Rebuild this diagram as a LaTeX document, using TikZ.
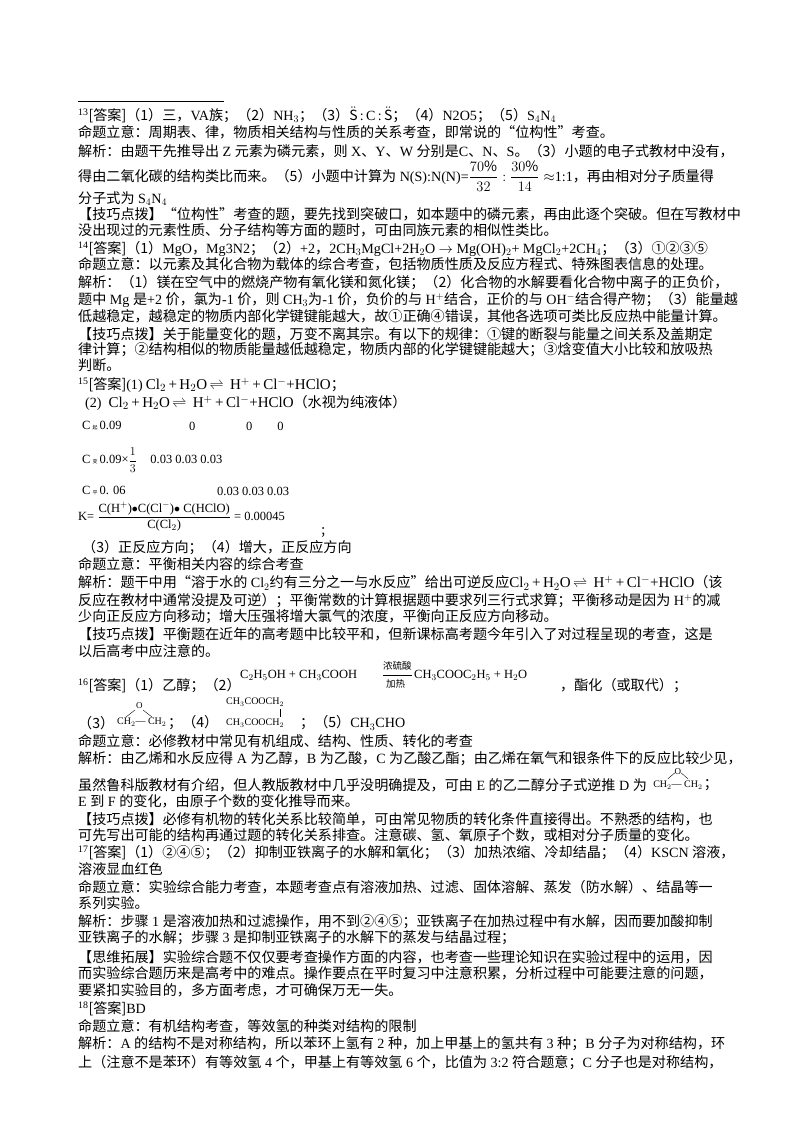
\documentclass[tikz,border=0pt]{standalone}
\usepackage{amsmath}
\usepackage{fontspec}
\setmainfont{Noto Sans CJK SC}
\newfontfamily\lf{Liberation Serif}
\newcommand\E[1]{{\lf #1}}
\newcommand\sps[1]{\textsuperscript{\lf #1}}
\newcommand\Cltwo{\E{Cl$_2$\,+\,H$_2$O\,$\rightleftharpoons$\, H$^+$\,+\,Cl$^-$+HClO}}
\tikzset{t/.style={anchor=west,inner sep=0,font=\fontsize{14.1}{16}\selectfont},
 s/.style={anchor=west,inner sep=0,font=\fontsize{12.5}{14}\selectfont}}
\begin{document}
\begin{tikzpicture}[x=1pt,y=-1pt]
\useasboundingbox (0,0) rectangle (800,1132);
\fill[white] (0,0) rectangle (800,1132);
\draw[line width=0.8pt] (78,101) -- (224,101);
\node[t] (a1) at (78,115) {\sps{13}[答案]（1）三，\E{VA}族；（2）\E{NH$_3$}；（3）\E{\fontsize{14}{15}\selectfont $\ddot{\mathrm{S}}$\,:\,C\,:\,$\ddot{\mathrm{S}}$}；（4）\E{N2O5}；（5）\E{S$_4$N$_4$}};
\node[t] (a2) at (78,132) {命题立意：周期表、律，物质相关结构与性质的关系考查，即常说的“位构性”考查。};
\node[t] (a3) at (78,151) {解析：由题干先推导出\E{ Z }元素为磷元素，则\E{ X}、\E{Y}、\E{W }分别是\E{C}、\E{N}、\E{S}。（3）小题的电子式教材中没有，};
\node[t] (a4) at (78,176) {得由二氧化碳的结构类比而来。（5）小题中计算为\E{ N(S):N(N)=$\dfrac{70\%}{32}:\dfrac{30\%}{14}\approx$1:1}，再由相对分子质量得};
\node[t] (a5) at (78,199) {分子式为\E{ S$_4$N$_4$}};
\node[t] (a6) at (78,214) {【技巧点拨】“位构性”考查的题，要先找到突破口，如本题中的磷元素，再由此逐个突破。但在写教材中};
\node[t] (a7) at (78,230) {没出现过的元素性质、分子结构等方面的题时，可由同族元素的相似性类比。};
\node[t] (b1) at (78,249) {\sps{14}[答案]（1）\E{MgO}，\E{Mg3N2}；（2）\E{+2}，\E{2CH$_3$MgCl+2H$_2$O $\rightarrow$ Mg(OH)$_2$+ MgCl$_2$+2CH$_4$}；（3）①②③⑤};
\node[t] (b2) at (78,264) {命题立意：以元素及其化合物为载体的综合考查，包括物质性质及反应方程式、特殊图表信息的处理。};
\node[t] (b3) at (78,283) {解析：（1）镁在空气中的燃烧产物有氧化镁和氮化镁；（2）化合物的水解要看化合物中离子的正负价，};
\node[t] (b4) at (78,300) {题中\E{ Mg }是\E{+2 }价，氯为\E{-1 }价，则\E{ CH$_3$}为\E{-1 }价，负价的与\E{ H$^+$}结合，正价的与\E{ OH$^-$}结合得产物；（3）能量越};
\node[t] (b5) at (78,316) {低越稳定，越稳定的物质内部化学键键能越大，故①正确④错误，其他各选项可类比反应热中能量计算。};
\node[t] (b6) at (78,334) {【技巧点拨】关于能量变化的题，万变不离其宗。有以下的规律：①键的断裂与能量之间关系及盖期定};
\node[t] (b7) at (78,350) {律计算；②结构相似的物质能量越低越稳定，物质内部的化学键键能越大；③焓变值大小比较和放吸热};
\node[t] (b8) at (78,365) {判断。};
\node[t] (c1) at (78,385) {\sps{15}[答案]\E{(1)} {\fontsize{15}{16}\selectfont\Cltwo}；};
\node[t] (c2) at (85,403) {\E{(2)}\; {\fontsize{15}{16}\selectfont\Cltwo}（水视为纯液体）};
\node[s] (c3) at (82,426) {\E{C}\,{\tiny 起}\,\E{0.09}};
\node[s] (c3a) at (189,426) {\E{0}};
\node[s] (c3b) at (246,426) {\E{0\qquad 0}};
\node[s] (c4) at (82,460) {\E{C}\,{\tiny 变}\,\E{0.09×$\dfrac{1}{3}$\;\;\; 0.03 0.03 0.03}};
\node[s] (c5) at (82,491) {\E{C}\,{\tiny 平}\,\E{0. 06}};
\node[s] (c5a) at (217,491) {\E{0.03 0.03 0.03}};
\node[s] (c6) at (78,517) {\E{K= $\dfrac{\text{C(H$^+$)$\bullet$C(Cl$^-$)$\bullet$ C(HClO)}}{\text{C(Cl$_2$)}}$ = 0.00045}};
\node[s] (c6a) at (320,533) {；};
\node[t] (c7) at (82,548) {（3）正反应方向；（4）增大，正反应方向};
\node[t] (c8) at (78,564) {命题立意：平衡相关内容的综合考查};
\node[t] (c9) at (78,583) {解析：题干中用“溶于水的\E{ Cl$_2$}约有三分之一与水反应”给出可逆反应{\fontsize{15}{16}\selectfont\Cltwo}（该};
\node[t] (c10) at (78,601) {反应在教材中通常没提及可逆）；平衡常数的计算根据题中要求列三行式求算；平衡移动是因为\E{ H$^+$}的减};
\node[t] (c11) at (78,617) {少向正反应方向移动；增大压强将增大氯气的浓度，平衡向正反应方向移动。};
\node[t] (c12) at (78,634) {【技巧点拨】平衡题在近年的高考题中比较平和，但新课标高考题今年引入了对过程呈现的考查，这是};
\node[t] (c13) at (78,651) {以后高考中应注意的。};
\node[t] (d1) at (78,686) {\sps{16}[答案]（1）乙醇；（2）};
\node[s] (d1a) at (240,675) {\E{C$_2$H$_5$OH + CH$_3$COOH}};
\node[s,font=\fontsize{9.5}{10}\selectfont] (d1b) at (383,666) {浓硫酸};
\node[s,font=\fontsize{9.5}{10}\selectfont] (d1c) at (386,684) {加热};
\draw (383,675) -- (412,675);
\node[s] (d1d) at (414,675) {\E{CH$_3$COOC$_2$H$_5$ + H$_2$O}};
\node[t] (d1e) at (560,686) {，酯化（或取代）；};
\node[s,font=\fontsize{10}{11}\selectfont] (d2) at (226,702) {\E{CH$_3$COOCH$_2$}};
\draw (280,709) -- (280,717);
\node[t] (d3) at (78,723) {（3）};
\node[s,font=\fontsize{10}{10}\selectfont] (eo1) at (117,722) {\E{CH$_2$— CH$_2$}};
\node[s,font=\fontsize{9}{9}\selectfont] (eoO) at (136,706) {\E{O}};
\draw (126,717) -- (135,710) (143,710) -- (152,717);
\node[t] (d3b) at (168,723) {；（4）};
\node[s,font=\fontsize{10}{11}\selectfont] (d4) at (226,723) {\E{CH$_3$COOCH$_2$}};
\node[t] (d5) at (300,723) {；（5）\E{CH$_3$CHO}};
\node[t] (d6) at (78,741) {命题立意：必修教材中常见有机组成、结构、性质、转化的考查};
\node[t] (d7) at (78,759) {解析：由乙烯和水反应得\E{ A }为乙醇，\E{B }为乙酸，\E{C }为乙酸乙酯；由乙烯在氧气和银条件下的反应比较少见，};
\node[t] (d8) at (78,785) {虽然鲁科版教材有介绍，但人教版教材中几乎没明确提及，可由\E{ E }的乙二醇分子式逆推\E{ D }为};
\node[s,font=\fontsize{10}{10}\selectfont,anchor=west] (eo2) at ([xshift=6pt]d8.east) {\E{CH$_2$— CH$_2$}};
\node[s,font=\fontsize{9}{9}\selectfont,anchor=south] (eo2O) at ([yshift=6pt]eo2.north) {\E{O}};
\draw ([xshift=-10pt,yshift=2pt]eo2.north) -- ([xshift=-3pt,yshift=8pt]eo2.north) ([xshift=3pt,yshift=8pt]eo2.north) -- ([xshift=10pt,yshift=2pt]eo2.north);
\node[t] (d8a) at ([xshift=1pt]eo2.east) {；};
\node[t] (d9) at (78,801) {\E{E }到\E{ F }的变化，由原子个数的变化推导而来。};
\node[t] (d10) at (78,819) {【技巧点拨】必修有机物的转化关系比较简单，可由常见物质的转化条件直接得出。不熟悉的结构，也};
\node[t] (d11) at (78,835) {可先写出可能的结构再通过题的转化关系排查。注意碳、氢、氧原子个数，或相对分子质量的变化。};
\node[t] (e1) at (78,853) {\sps{17}[答案]（1）②④⑤；（2）抑制亚铁离子的水解和氧化；（3）加热浓缩、冷却结晶；（4）\E{KSCN }溶液，};
\node[t] (e2) at (78,869) {溶液显血红色};
\node[t] (e3) at (78,887) {命题立意：实验综合能力考查，本题考查点有溶液加热、过滤、固体溶解、蒸发（防水解）、结晶等一};
\node[t] (e4) at (78,903) {系列实验。};
\node[t] (e5) at (78,922) {解析：步骤\E{ 1 }是溶液加热和过滤操作，用不到②④⑤；亚铁离子在加热过程中有水解，因而要加酸抑制};
\node[t] (e6) at (78,938) {亚铁离子的水解；步骤\E{ 3 }是抑制亚铁离子的水解下的蒸发与结晶过程；};
\node[t] (e7) at (78,957) {【思维拓展】实验综合题不仅仅要考查操作方面的内容，也考查一些理论知识在实验过程中的运用，因};
\node[t] (e8) at (78,973) {而实验综合题历来是高考中的难点。操作要点在平时复习中注意积累，分析过程中可能要注意的问题，};
\node[t] (e9) at (78,990) {要紧扣实验目的，多方面考虑，才可确保万无一失。};
\node[t] (f1) at (78,1009) {\sps{18}[答案]\E{BD}};
\node[t] (f2) at (78,1026) {命题立意：有机结构考查，等效氢的种类对结构的限制};
\node[t] (f3) at (78,1044) {解析：\E{A }的结构不是对称结构，所以苯环上氢有\E{ 2 }种，加上甲基上的氢共有\E{ 3 }种；\E{B }分子为对称结构，环};
\node[t] (f4) at (78,1063) {上（注意不是苯环）有等效氢\E{ 4 }个，甲基上有等效氢\E{ 6 }个，比值为\E{ 3:2 }符合题意；\E{C }分子也是对称结构，};
\end{tikzpicture}
\end{document}
